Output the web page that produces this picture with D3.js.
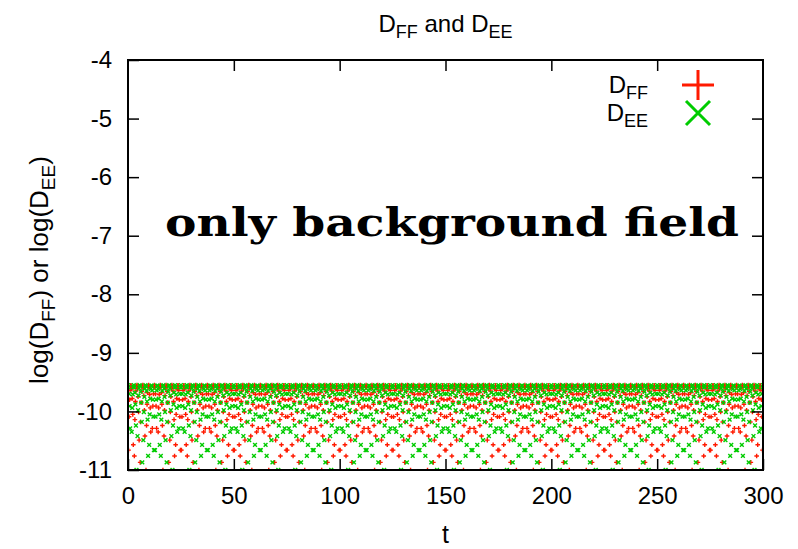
<!DOCTYPE html>
<html>
<head>
    <meta charset="utf-8">
    <script src="https://cdnjs.cloudflare.com/ajax/libs/d3/7.8.5/d3.min.js"></script>
    <style>
        body { margin: 0; background-color: #fff; }
        text { font-family: 'Liberation Sans', Helvetica, Arial, sans-serif; fill: #000; }
        .axis path, .axis line { fill: none; stroke: #000; stroke-width: 1.5; }
        .axis text { font-size: 24px; }
    </style>
</head>
<body>
    <svg width="798" height="549"></svg>
    <script>
        // sample spacing in t (samples start at t = 0)
        var tStep = 0.25;

        // log(D_FF), one value per sample
        var logDFF = [
            -13.0,-10.66,-10.09,-9.80,-9.64,-9.56,-9.56,-9.62,-9.78,-10.05,-10.57,-12.56,-10.76,-10.14,-9.83,-9.65,-9.57,-9.55,-9.61,-9.75,-10.01,-10.49,-11.95,-10.87,-10.18,-9.85,-9.66,-9.57,-9.55,-9.60,-9.73,-9.98,-10.42,-11.60,-11.00,-10.24,-9.88,-9.68,-9.58,-9.55,-9.59,-9.71,-9.94,-10.35,-11.35,-11.16,-10.29,-9.91,-9.70,-9.59,-9.55,-9.59,-9.70,-9.91,-10.29,-11.16,-11.35,-10.35,-9.94,-9.71,-9.59,-9.55,-9.58,-9.68,-9.88,-10.24,-11.00,-11.60,-10.42,-9.98,-9.73,-9.60,-9.55,-9.57,-9.66,-9.85,-10.18,-10.87,-11.95,-10.49,-10.01,-9.75,-9.61,-9.55,-9.57,-9.65,-9.83,-10.14,-10.76,-12.56,-10.57,-10.05,-9.78,-9.62,-9.56,-9.56,-9.64,-9.80,-10.09,-10.66,
            -13.0,-10.66,-10.09,-9.80,-9.64,-9.56,-9.56,-9.62,-9.78,-10.05,-10.57,-12.56,-10.76,-10.14,-9.83,-9.65,-9.57,-9.55,-9.61,-9.75,-10.01,-10.49,-11.95,-10.87,-10.18,-9.85,-9.66,-9.57,-9.55,-9.60,-9.73,-9.98,-10.42,-11.60,-11.00,-10.24,-9.88,-9.68,-9.58,-9.55,-9.59,-9.71,-9.94,-10.35,-11.35,-11.16,-10.29,-9.91,-9.70,-9.59,-9.55,-9.59,-9.70,-9.91,-10.29,-11.16,-11.35,-10.35,-9.94,-9.71,-9.59,-9.55,-9.58,-9.68,-9.88,-10.24,-11.00,-11.60,-10.42,-9.98,-9.73,-9.60,-9.55,-9.57,-9.66,-9.85,-10.18,-10.87,-11.95,-10.49,-10.01,-9.75,-9.61,-9.55,-9.57,-9.65,-9.83,-10.14,-10.76,-12.56,-10.57,-10.05,-9.78,-9.62,-9.56,-9.56,-9.64,-9.80,-10.09,-10.66,
            -13.0,-10.66,-10.09,-9.80,-9.64,-9.56,-9.56,-9.62,-9.78,-10.05,-10.57,-12.56,-10.76,-10.14,-9.83,-9.65,-9.57,-9.55,-9.61,-9.75,-10.01,-10.49,-11.95,-10.87,-10.18,-9.85,-9.66,-9.57,-9.55,-9.60,-9.73,-9.98,-10.42,-11.60,-11.00,-10.24,-9.88,-9.68,-9.58,-9.55,-9.59,-9.71,-9.94,-10.35,-11.35,-11.16,-10.29,-9.91,-9.70,-9.59,-9.55,-9.59,-9.70,-9.91,-10.29,-11.16,-11.35,-10.35,-9.94,-9.71,-9.59,-9.55,-9.58,-9.68,-9.88,-10.24,-11.00,-11.60,-10.42,-9.98,-9.73,-9.60,-9.55,-9.57,-9.66,-9.85,-10.18,-10.87,-11.95,-10.49,-10.01,-9.75,-9.61,-9.55,-9.57,-9.65,-9.83,-10.14,-10.76,-12.56,-10.57,-10.05,-9.78,-9.62,-9.56,-9.56,-9.64,-9.80,-10.09,-10.66,
            -13.0,-10.66,-10.09,-9.80,-9.64,-9.56,-9.56,-9.62,-9.78,-10.05,-10.57,-12.56,-10.76,-10.14,-9.83,-9.65,-9.57,-9.55,-9.61,-9.75,-10.01,-10.49,-11.95,-10.87,-10.18,-9.85,-9.66,-9.57,-9.55,-9.60,-9.73,-9.98,-10.42,-11.60,-11.00,-10.24,-9.88,-9.68,-9.58,-9.55,-9.59,-9.71,-9.94,-10.35,-11.35,-11.16,-10.29,-9.91,-9.70,-9.59,-9.55,-9.59,-9.70,-9.91,-10.29,-11.16,-11.35,-10.35,-9.94,-9.71,-9.59,-9.55,-9.58,-9.68,-9.88,-10.24,-11.00,-11.60,-10.42,-9.98,-9.73,-9.60,-9.55,-9.57,-9.66,-9.85,-10.18,-10.87,-11.95,-10.49,-10.01,-9.75,-9.61,-9.55,-9.57,-9.65,-9.83,-10.14,-10.76,-12.56,-10.57,-10.05,-9.78,-9.62,-9.56,-9.56,-9.64,-9.80,-10.09,-10.66,
            -13.0,-10.66,-10.09,-9.80,-9.64,-9.56,-9.56,-9.62,-9.78,-10.05,-10.57,-12.56,-10.76,-10.14,-9.83,-9.65,-9.57,-9.55,-9.61,-9.75,-10.01,-10.49,-11.95,-10.87,-10.18,-9.85,-9.66,-9.57,-9.55,-9.60,-9.73,-9.98,-10.42,-11.60,-11.00,-10.24,-9.88,-9.68,-9.58,-9.55,-9.59,-9.71,-9.94,-10.35,-11.35,-11.16,-10.29,-9.91,-9.70,-9.59,-9.55,-9.59,-9.70,-9.91,-10.29,-11.16,-11.35,-10.35,-9.94,-9.71,-9.59,-9.55,-9.58,-9.68,-9.88,-10.24,-11.00,-11.60,-10.42,-9.98,-9.73,-9.60,-9.55,-9.57,-9.66,-9.85,-10.18,-10.87,-11.95,-10.49,-10.01,-9.75,-9.61,-9.55,-9.57,-9.65,-9.83,-10.14,-10.76,-12.56,-10.57,-10.05,-9.78,-9.62,-9.56,-9.56,-9.64,-9.80,-10.09,-10.66,
            -13.0,-10.66,-10.09,-9.80,-9.64,-9.56,-9.56,-9.62,-9.78,-10.05,-10.57,-12.56,-10.76,-10.14,-9.83,-9.65,-9.57,-9.55,-9.61,-9.75,-10.01,-10.49,-11.95,-10.87,-10.18,-9.85,-9.66,-9.57,-9.55,-9.60,-9.73,-9.98,-10.42,-11.60,-11.00,-10.24,-9.88,-9.68,-9.58,-9.55,-9.59,-9.71,-9.94,-10.35,-11.35,-11.16,-10.29,-9.91,-9.70,-9.59,-9.55,-9.59,-9.70,-9.91,-10.29,-11.16,-11.35,-10.35,-9.94,-9.71,-9.59,-9.55,-9.58,-9.68,-9.88,-10.24,-11.00,-11.60,-10.42,-9.98,-9.73,-9.60,-9.55,-9.57,-9.66,-9.85,-10.18,-10.87,-11.95,-10.49,-10.01,-9.75,-9.61,-9.55,-9.57,-9.65,-9.83,-10.14,-10.76,-12.56,-10.57,-10.05,-9.78,-9.62,-9.56,-9.56,-9.64,-9.80,-10.09,-10.66,
            -13.0,-10.66,-10.09,-9.80,-9.64,-9.56,-9.56,-9.62,-9.78,-10.05,-10.57,-12.56,-10.76,-10.14,-9.83,-9.65,-9.57,-9.55,-9.61,-9.75,-10.01,-10.49,-11.95,-10.87,-10.18,-9.85,-9.66,-9.57,-9.55,-9.60,-9.73,-9.98,-10.42,-11.60,-11.00,-10.24,-9.88,-9.68,-9.58,-9.55,-9.59,-9.71,-9.94,-10.35,-11.35,-11.16,-10.29,-9.91,-9.70,-9.59,-9.55,-9.59,-9.70,-9.91,-10.29,-11.16,-11.35,-10.35,-9.94,-9.71,-9.59,-9.55,-9.58,-9.68,-9.88,-10.24,-11.00,-11.60,-10.42,-9.98,-9.73,-9.60,-9.55,-9.57,-9.66,-9.85,-10.18,-10.87,-11.95,-10.49,-10.01,-9.75,-9.61,-9.55,-9.57,-9.65,-9.83,-10.14,-10.76,-12.56,-10.57,-10.05,-9.78,-9.62,-9.56,-9.56,-9.64,-9.80,-10.09,-10.66,
            -13.0,-10.66,-10.09,-9.80,-9.64,-9.56,-9.56,-9.62,-9.78,-10.05,-10.57,-12.56,-10.76,-10.14,-9.83,-9.65,-9.57,-9.55,-9.61,-9.75,-10.01,-10.49,-11.95,-10.87,-10.18,-9.85,-9.66,-9.57,-9.55,-9.60,-9.73,-9.98,-10.42,-11.60,-11.00,-10.24,-9.88,-9.68,-9.58,-9.55,-9.59,-9.71,-9.94,-10.35,-11.35,-11.16,-10.29,-9.91,-9.70,-9.59,-9.55,-9.59,-9.70,-9.91,-10.29,-11.16,-11.35,-10.35,-9.94,-9.71,-9.59,-9.55,-9.58,-9.68,-9.88,-10.24,-11.00,-11.60,-10.42,-9.98,-9.73,-9.60,-9.55,-9.57,-9.66,-9.85,-10.18,-10.87,-11.95,-10.49,-10.01,-9.75,-9.61,-9.55,-9.57,-9.65,-9.83,-10.14,-10.76,-12.56,-10.57,-10.05,-9.78,-9.62,-9.56,-9.56,-9.64,-9.80,-10.09,-10.66,
            -13.0,-10.66,-10.09,-9.80,-9.64,-9.56,-9.56,-9.62,-9.78,-10.05,-10.57,-12.56,-10.76,-10.14,-9.83,-9.65,-9.57,-9.55,-9.61,-9.75,-10.01,-10.49,-11.95,-10.87,-10.18,-9.85,-9.66,-9.57,-9.55,-9.60,-9.73,-9.98,-10.42,-11.60,-11.00,-10.24,-9.88,-9.68,-9.58,-9.55,-9.59,-9.71,-9.94,-10.35,-11.35,-11.16,-10.29,-9.91,-9.70,-9.59,-9.55,-9.59,-9.70,-9.91,-10.29,-11.16,-11.35,-10.35,-9.94,-9.71,-9.59,-9.55,-9.58,-9.68,-9.88,-10.24,-11.00,-11.60,-10.42,-9.98,-9.73,-9.60,-9.55,-9.57,-9.66,-9.85,-10.18,-10.87,-11.95,-10.49,-10.01,-9.75,-9.61,-9.55,-9.57,-9.65,-9.83,-10.14,-10.76,-12.56,-10.57,-10.05,-9.78,-9.62,-9.56,-9.56,-9.64,-9.80,-10.09,-10.66,
            -13.0,-10.66,-10.09,-9.80,-9.64,-9.56,-9.56,-9.62,-9.78,-10.05,-10.57,-12.56,-10.76,-10.14,-9.83,-9.65,-9.57,-9.55,-9.61,-9.75,-10.01,-10.49,-11.95,-10.87,-10.18,-9.85,-9.66,-9.57,-9.55,-9.60,-9.73,-9.98,-10.42,-11.60,-11.00,-10.24,-9.88,-9.68,-9.58,-9.55,-9.59,-9.71,-9.94,-10.35,-11.35,-11.16,-10.29,-9.91,-9.70,-9.59,-9.55,-9.59,-9.70,-9.91,-10.29,-11.16,-11.35,-10.35,-9.94,-9.71,-9.59,-9.55,-9.58,-9.68,-9.88,-10.24,-11.00,-11.60,-10.42,-9.98,-9.73,-9.60,-9.55,-9.57,-9.66,-9.85,-10.18,-10.87,-11.95,-10.49,-10.01,-9.75,-9.61,-9.55,-9.57,-9.65,-9.83,-10.14,-10.76,-12.56,-10.57,-10.05,-9.78,-9.62,-9.56,-9.56,-9.64,-9.80,-10.09,-10.66,
            -13.0,-10.66,-10.09,-9.80,-9.64,-9.56,-9.56,-9.62,-9.78,-10.05,-10.57,-12.56,-10.76,-10.14,-9.83,-9.65,-9.57,-9.55,-9.61,-9.75,-10.01,-10.49,-11.95,-10.87,-10.18,-9.85,-9.66,-9.57,-9.55,-9.60,-9.73,-9.98,-10.42,-11.60,-11.00,-10.24,-9.88,-9.68,-9.58,-9.55,-9.59,-9.71,-9.94,-10.35,-11.35,-11.16,-10.29,-9.91,-9.70,-9.59,-9.55,-9.59,-9.70,-9.91,-10.29,-11.16,-11.35,-10.35,-9.94,-9.71,-9.59,-9.55,-9.58,-9.68,-9.88,-10.24,-11.00,-11.60,-10.42,-9.98,-9.73,-9.60,-9.55,-9.57,-9.66,-9.85,-10.18,-10.87,-11.95,-10.49,-10.01,-9.75,-9.61,-9.55,-9.57,-9.65,-9.83,-10.14,-10.76,-12.56,-10.57,-10.05,-9.78,-9.62,-9.56,-9.56,-9.64,-9.80,-10.09,-10.66,
            -13.0,-10.66,-10.09,-9.80,-9.64,-9.56,-9.56,-9.62,-9.78,-10.05,-10.57,-12.56,-10.76,-10.14,-9.83,-9.65,-9.57,-9.55,-9.61,-9.75,-10.01,-10.49,-11.95,-10.87,-10.18,-9.85,-9.66,-9.57,-9.55,-9.60,-9.73,-9.98,-10.42,-11.60,-11.00,-10.24,-9.88,-9.68,-9.58,-9.55,-9.59,-9.71,-9.94,-10.35,-11.35,-11.16,-10.29,-9.91,-9.70,-9.59,-9.55,-9.59,-9.70,-9.91,-10.29,-11.16,-11.35,-10.35,-9.94,-9.71,-9.59,-9.55,-9.58,-9.68,-9.88,-10.24,-11.00,-11.60,-10.42,-9.98,-9.73,-9.60,-9.55,-9.57,-9.66,-9.85,-10.18,-10.87,-11.95,-10.49,-10.01,-9.75,-9.61,-9.55,-9.57,-9.65,-9.83,-10.14,-10.76,-12.56,-10.57,-10.05,-9.78,-9.62,-9.56,-9.56,-9.64,-9.80,-10.09,-10.66,
            -13.0
        ];

        // log(D_EE), same sample times
        var logDEE = [
            -9.55,-9.59,-9.70,-9.91,-10.29,-11.16,-11.35,-10.35,-9.94,-9.71,-9.59,-9.55,-9.58,-9.68,-9.88,-10.24,-11.00,-11.60,-10.42,-9.98,-9.73,-9.60,-9.55,-9.57,-9.66,-9.85,-10.18,-10.87,-11.95,-10.49,-10.01,-9.75,-9.61,-9.55,-9.57,-9.65,-9.83,-10.14,-10.76,-12.56,-10.57,-10.05,-9.78,-9.62,-9.56,-9.56,-9.64,-9.80,-10.09,-10.66,-13.0,-10.66,-10.09,-9.80,-9.64,-9.56,-9.56,-9.62,-9.78,-10.05,-10.57,-12.56,-10.76,-10.14,-9.83,-9.65,-9.57,-9.55,-9.61,-9.75,-10.01,-10.49,-11.95,-10.87,-10.18,-9.85,-9.66,-9.57,-9.55,-9.60,-9.73,-9.98,-10.42,-11.60,-11.00,-10.24,-9.88,-9.68,-9.58,-9.55,-9.59,-9.71,-9.94,-10.35,-11.35,-11.16,-10.29,-9.91,-9.70,-9.59,
            -9.55,-9.59,-9.70,-9.91,-10.29,-11.16,-11.35,-10.35,-9.94,-9.71,-9.59,-9.55,-9.58,-9.68,-9.88,-10.24,-11.00,-11.60,-10.42,-9.98,-9.73,-9.60,-9.55,-9.57,-9.66,-9.85,-10.18,-10.87,-11.95,-10.49,-10.01,-9.75,-9.61,-9.55,-9.57,-9.65,-9.83,-10.14,-10.76,-12.56,-10.57,-10.05,-9.78,-9.62,-9.56,-9.56,-9.64,-9.80,-10.09,-10.66,-13.0,-10.66,-10.09,-9.80,-9.64,-9.56,-9.56,-9.62,-9.78,-10.05,-10.57,-12.56,-10.76,-10.14,-9.83,-9.65,-9.57,-9.55,-9.61,-9.75,-10.01,-10.49,-11.95,-10.87,-10.18,-9.85,-9.66,-9.57,-9.55,-9.60,-9.73,-9.98,-10.42,-11.60,-11.00,-10.24,-9.88,-9.68,-9.58,-9.55,-9.59,-9.71,-9.94,-10.35,-11.35,-11.16,-10.29,-9.91,-9.70,-9.59,
            -9.55,-9.59,-9.70,-9.91,-10.29,-11.16,-11.35,-10.35,-9.94,-9.71,-9.59,-9.55,-9.58,-9.68,-9.88,-10.24,-11.00,-11.60,-10.42,-9.98,-9.73,-9.60,-9.55,-9.57,-9.66,-9.85,-10.18,-10.87,-11.95,-10.49,-10.01,-9.75,-9.61,-9.55,-9.57,-9.65,-9.83,-10.14,-10.76,-12.56,-10.57,-10.05,-9.78,-9.62,-9.56,-9.56,-9.64,-9.80,-10.09,-10.66,-13.0,-10.66,-10.09,-9.80,-9.64,-9.56,-9.56,-9.62,-9.78,-10.05,-10.57,-12.56,-10.76,-10.14,-9.83,-9.65,-9.57,-9.55,-9.61,-9.75,-10.01,-10.49,-11.95,-10.87,-10.18,-9.85,-9.66,-9.57,-9.55,-9.60,-9.73,-9.98,-10.42,-11.60,-11.00,-10.24,-9.88,-9.68,-9.58,-9.55,-9.59,-9.71,-9.94,-10.35,-11.35,-11.16,-10.29,-9.91,-9.70,-9.59,
            -9.55,-9.59,-9.70,-9.91,-10.29,-11.16,-11.35,-10.35,-9.94,-9.71,-9.59,-9.55,-9.58,-9.68,-9.88,-10.24,-11.00,-11.60,-10.42,-9.98,-9.73,-9.60,-9.55,-9.57,-9.66,-9.85,-10.18,-10.87,-11.95,-10.49,-10.01,-9.75,-9.61,-9.55,-9.57,-9.65,-9.83,-10.14,-10.76,-12.56,-10.57,-10.05,-9.78,-9.62,-9.56,-9.56,-9.64,-9.80,-10.09,-10.66,-13.0,-10.66,-10.09,-9.80,-9.64,-9.56,-9.56,-9.62,-9.78,-10.05,-10.57,-12.56,-10.76,-10.14,-9.83,-9.65,-9.57,-9.55,-9.61,-9.75,-10.01,-10.49,-11.95,-10.87,-10.18,-9.85,-9.66,-9.57,-9.55,-9.60,-9.73,-9.98,-10.42,-11.60,-11.00,-10.24,-9.88,-9.68,-9.58,-9.55,-9.59,-9.71,-9.94,-10.35,-11.35,-11.16,-10.29,-9.91,-9.70,-9.59,
            -9.55,-9.59,-9.70,-9.91,-10.29,-11.16,-11.35,-10.35,-9.94,-9.71,-9.59,-9.55,-9.58,-9.68,-9.88,-10.24,-11.00,-11.60,-10.42,-9.98,-9.73,-9.60,-9.55,-9.57,-9.66,-9.85,-10.18,-10.87,-11.95,-10.49,-10.01,-9.75,-9.61,-9.55,-9.57,-9.65,-9.83,-10.14,-10.76,-12.56,-10.57,-10.05,-9.78,-9.62,-9.56,-9.56,-9.64,-9.80,-10.09,-10.66,-13.0,-10.66,-10.09,-9.80,-9.64,-9.56,-9.56,-9.62,-9.78,-10.05,-10.57,-12.56,-10.76,-10.14,-9.83,-9.65,-9.57,-9.55,-9.61,-9.75,-10.01,-10.49,-11.95,-10.87,-10.18,-9.85,-9.66,-9.57,-9.55,-9.60,-9.73,-9.98,-10.42,-11.60,-11.00,-10.24,-9.88,-9.68,-9.58,-9.55,-9.59,-9.71,-9.94,-10.35,-11.35,-11.16,-10.29,-9.91,-9.70,-9.59,
            -9.55,-9.59,-9.70,-9.91,-10.29,-11.16,-11.35,-10.35,-9.94,-9.71,-9.59,-9.55,-9.58,-9.68,-9.88,-10.24,-11.00,-11.60,-10.42,-9.98,-9.73,-9.60,-9.55,-9.57,-9.66,-9.85,-10.18,-10.87,-11.95,-10.49,-10.01,-9.75,-9.61,-9.55,-9.57,-9.65,-9.83,-10.14,-10.76,-12.56,-10.57,-10.05,-9.78,-9.62,-9.56,-9.56,-9.64,-9.80,-10.09,-10.66,-13.0,-10.66,-10.09,-9.80,-9.64,-9.56,-9.56,-9.62,-9.78,-10.05,-10.57,-12.56,-10.76,-10.14,-9.83,-9.65,-9.57,-9.55,-9.61,-9.75,-10.01,-10.49,-11.95,-10.87,-10.18,-9.85,-9.66,-9.57,-9.55,-9.60,-9.73,-9.98,-10.42,-11.60,-11.00,-10.24,-9.88,-9.68,-9.58,-9.55,-9.59,-9.71,-9.94,-10.35,-11.35,-11.16,-10.29,-9.91,-9.70,-9.59,
            -9.55,-9.59,-9.70,-9.91,-10.29,-11.16,-11.35,-10.35,-9.94,-9.71,-9.59,-9.55,-9.58,-9.68,-9.88,-10.24,-11.00,-11.60,-10.42,-9.98,-9.73,-9.60,-9.55,-9.57,-9.66,-9.85,-10.18,-10.87,-11.95,-10.49,-10.01,-9.75,-9.61,-9.55,-9.57,-9.65,-9.83,-10.14,-10.76,-12.56,-10.57,-10.05,-9.78,-9.62,-9.56,-9.56,-9.64,-9.80,-10.09,-10.66,-13.0,-10.66,-10.09,-9.80,-9.64,-9.56,-9.56,-9.62,-9.78,-10.05,-10.57,-12.56,-10.76,-10.14,-9.83,-9.65,-9.57,-9.55,-9.61,-9.75,-10.01,-10.49,-11.95,-10.87,-10.18,-9.85,-9.66,-9.57,-9.55,-9.60,-9.73,-9.98,-10.42,-11.60,-11.00,-10.24,-9.88,-9.68,-9.58,-9.55,-9.59,-9.71,-9.94,-10.35,-11.35,-11.16,-10.29,-9.91,-9.70,-9.59,
            -9.55,-9.59,-9.70,-9.91,-10.29,-11.16,-11.35,-10.35,-9.94,-9.71,-9.59,-9.55,-9.58,-9.68,-9.88,-10.24,-11.00,-11.60,-10.42,-9.98,-9.73,-9.60,-9.55,-9.57,-9.66,-9.85,-10.18,-10.87,-11.95,-10.49,-10.01,-9.75,-9.61,-9.55,-9.57,-9.65,-9.83,-10.14,-10.76,-12.56,-10.57,-10.05,-9.78,-9.62,-9.56,-9.56,-9.64,-9.80,-10.09,-10.66,-13.0,-10.66,-10.09,-9.80,-9.64,-9.56,-9.56,-9.62,-9.78,-10.05,-10.57,-12.56,-10.76,-10.14,-9.83,-9.65,-9.57,-9.55,-9.61,-9.75,-10.01,-10.49,-11.95,-10.87,-10.18,-9.85,-9.66,-9.57,-9.55,-9.60,-9.73,-9.98,-10.42,-11.60,-11.00,-10.24,-9.88,-9.68,-9.58,-9.55,-9.59,-9.71,-9.94,-10.35,-11.35,-11.16,-10.29,-9.91,-9.70,-9.59,
            -9.55,-9.59,-9.70,-9.91,-10.29,-11.16,-11.35,-10.35,-9.94,-9.71,-9.59,-9.55,-9.58,-9.68,-9.88,-10.24,-11.00,-11.60,-10.42,-9.98,-9.73,-9.60,-9.55,-9.57,-9.66,-9.85,-10.18,-10.87,-11.95,-10.49,-10.01,-9.75,-9.61,-9.55,-9.57,-9.65,-9.83,-10.14,-10.76,-12.56,-10.57,-10.05,-9.78,-9.62,-9.56,-9.56,-9.64,-9.80,-10.09,-10.66,-13.0,-10.66,-10.09,-9.80,-9.64,-9.56,-9.56,-9.62,-9.78,-10.05,-10.57,-12.56,-10.76,-10.14,-9.83,-9.65,-9.57,-9.55,-9.61,-9.75,-10.01,-10.49,-11.95,-10.87,-10.18,-9.85,-9.66,-9.57,-9.55,-9.60,-9.73,-9.98,-10.42,-11.60,-11.00,-10.24,-9.88,-9.68,-9.58,-9.55,-9.59,-9.71,-9.94,-10.35,-11.35,-11.16,-10.29,-9.91,-9.70,-9.59,
            -9.55,-9.59,-9.70,-9.91,-10.29,-11.16,-11.35,-10.35,-9.94,-9.71,-9.59,-9.55,-9.58,-9.68,-9.88,-10.24,-11.00,-11.60,-10.42,-9.98,-9.73,-9.60,-9.55,-9.57,-9.66,-9.85,-10.18,-10.87,-11.95,-10.49,-10.01,-9.75,-9.61,-9.55,-9.57,-9.65,-9.83,-10.14,-10.76,-12.56,-10.57,-10.05,-9.78,-9.62,-9.56,-9.56,-9.64,-9.80,-10.09,-10.66,-13.0,-10.66,-10.09,-9.80,-9.64,-9.56,-9.56,-9.62,-9.78,-10.05,-10.57,-12.56,-10.76,-10.14,-9.83,-9.65,-9.57,-9.55,-9.61,-9.75,-10.01,-10.49,-11.95,-10.87,-10.18,-9.85,-9.66,-9.57,-9.55,-9.60,-9.73,-9.98,-10.42,-11.60,-11.00,-10.24,-9.88,-9.68,-9.58,-9.55,-9.59,-9.71,-9.94,-10.35,-11.35,-11.16,-10.29,-9.91,-9.70,-9.59,
            -9.55,-9.59,-9.70,-9.91,-10.29,-11.16,-11.35,-10.35,-9.94,-9.71,-9.59,-9.55,-9.58,-9.68,-9.88,-10.24,-11.00,-11.60,-10.42,-9.98,-9.73,-9.60,-9.55,-9.57,-9.66,-9.85,-10.18,-10.87,-11.95,-10.49,-10.01,-9.75,-9.61,-9.55,-9.57,-9.65,-9.83,-10.14,-10.76,-12.56,-10.57,-10.05,-9.78,-9.62,-9.56,-9.56,-9.64,-9.80,-10.09,-10.66,-13.0,-10.66,-10.09,-9.80,-9.64,-9.56,-9.56,-9.62,-9.78,-10.05,-10.57,-12.56,-10.76,-10.14,-9.83,-9.65,-9.57,-9.55,-9.61,-9.75,-10.01,-10.49,-11.95,-10.87,-10.18,-9.85,-9.66,-9.57,-9.55,-9.60,-9.73,-9.98,-10.42,-11.60,-11.00,-10.24,-9.88,-9.68,-9.58,-9.55,-9.59,-9.71,-9.94,-10.35,-11.35,-11.16,-10.29,-9.91,-9.70,-9.59,
            -9.55,-9.59,-9.70,-9.91,-10.29,-11.16,-11.35,-10.35,-9.94,-9.71,-9.59,-9.55,-9.58,-9.68,-9.88,-10.24,-11.00,-11.60,-10.42,-9.98,-9.73,-9.60,-9.55,-9.57,-9.66,-9.85,-10.18,-10.87,-11.95,-10.49,-10.01,-9.75,-9.61,-9.55,-9.57,-9.65,-9.83,-10.14,-10.76,-12.56,-10.57,-10.05,-9.78,-9.62,-9.56,-9.56,-9.64,-9.80,-10.09,-10.66,-13.0,-10.66,-10.09,-9.80,-9.64,-9.56,-9.56,-9.62,-9.78,-10.05,-10.57,-12.56,-10.76,-10.14,-9.83,-9.65,-9.57,-9.55,-9.61,-9.75,-10.01,-10.49,-11.95,-10.87,-10.18,-9.85,-9.66,-9.57,-9.55,-9.60,-9.73,-9.98,-10.42,-11.60,-11.00,-10.24,-9.88,-9.68,-9.58,-9.55,-9.59,-9.71,-9.94,-10.35,-11.35,-11.16,-10.29,-9.91,-9.70,-9.59,
            -9.55
        ];

        var xTicks = [0, 50, 100, 150, 200, 250, 300];
        var yTicks = [-11, -10, -9, -8, -7, -6, -5, -4];
        var ffColor = "#ff1a00",
            eeColor = "#00cc00";

        var svg = d3.select("svg"),
            margin = {top: 60, right: 35, bottom: 79, left: 128},
            width = svg.attr("width") - margin.left - margin.right,
            height = svg.attr("height") - margin.top - margin.bottom,
            g = svg.append("g").attr("transform", "translate(" + margin.left + "," + margin.top + ")");

        var x = d3.scaleLinear().domain([0, 300]).range([0, width]),
            y = d3.scaleLinear().domain([-11, -4]).range([height, 0]);

        svg.append("defs").append("clipPath").attr("id", "clip")
            .append("rect").attr("width", width).attr("height", height);

        // small gnuplot style point markers
        var plusPath = "M-2.3,0H2.3M0,-2.3V2.3",
            crossPath = "M-1.9,-1.9L1.9,1.9M-1.9,1.9L1.9,-1.9";

        var pts = g.append("g").attr("clip-path", "url(#clip)");

        pts.append("g").selectAll("path")
            .data(logDFF)
            .enter().append("path")
            .attr("transform", function(d, i) { return "translate(" + x(i * tStep) + "," + y(d) + ")"; })
            .attr("d", plusPath)
            .attr("stroke", ffColor)
            .attr("stroke-width", 1.4)
            .attr("fill", "none");

        pts.append("g").selectAll("path")
            .data(logDEE)
            .enter().append("path")
            .attr("transform", function(d, i) { return "translate(" + x(i * tStep) + "," + y(d) + ")"; })
            .attr("d", crossPath)
            .attr("stroke", eeColor)
            .attr("stroke-width", 1.4)
            .attr("fill", "none");

        // axes, ticks pointing inward, mirrored on top/right
        var fmt = function(d) { return String(d); };
        g.append("g").attr("class", "axis")
            .attr("transform", "translate(0," + height + ")")
            .call(d3.axisBottom(x).tickValues(xTicks).tickFormat(fmt).tickSizeInner(-11).tickSizeOuter(0).tickPadding(17));
        g.append("g").attr("class", "axis")
            .call(d3.axisTop(x).tickValues(xTicks.slice(1, -1)).tickSizeInner(-11).tickSizeOuter(0).tickFormat(""));
        g.append("g").attr("class", "axis")
            .call(d3.axisLeft(y).tickValues(yTicks).tickFormat(fmt).tickSizeInner(-11).tickSizeOuter(0).tickPadding(16));
        g.append("g").attr("class", "axis")
            .attr("transform", "translate(" + width + ",0)")
            .call(d3.axisRight(y).tickValues(yTicks.slice(1, -1)).tickSizeInner(-11).tickSizeOuter(0).tickFormat(""));
        g.selectAll(".axis .domain").remove();

        g.append("rect")
            .attr("width", width).attr("height", height)
            .attr("fill", "none").attr("stroke", "#000").attr("stroke-width", 2);

        // title
        var title = svg.append("text")
            .attr("x", margin.left + width / 2).attr("y", 32)
            .attr("text-anchor", "middle")
            .style("font-size", "24px");
        title.append("tspan").text("D");
        title.append("tspan").attr("dy", 6).style("font-size", "18px").text("FF");
        title.append("tspan").attr("dy", -6).text(" and D");
        title.append("tspan").attr("dy", 6).style("font-size", "18px").text("EE");

        // axis labels
        svg.append("text")
            .attr("x", margin.left + width / 2).attr("y", 543)
            .attr("text-anchor", "middle")
            .style("font-size", "25px")
            .text("t");

        var ylab = svg.append("text")
            .attr("transform", "translate(48,270) rotate(-90)")
            .attr("text-anchor", "middle")
            .style("font-size", "26px");
        ylab.append("tspan").text("log(D");
        ylab.append("tspan").attr("dy", 7).style("font-size", "19px").text("FF");
        ylab.append("tspan").attr("dy", -7).text(") or log(D");
        ylab.append("tspan").attr("dy", 7).style("font-size", "19px").text("EE");
        ylab.append("tspan").attr("dy", -7).text(")");

        // annotation
        svg.append("text")
            .attr("x", 165).attr("y", 236)
            .attr("textLength", 574).attr("lengthAdjust", "spacingAndGlyphs")
            .style("font-family", "'DejaVu Serif', serif")
            .style("font-weight", "bold")
            .style("font-size", "40px")
            .text("only background field");

        // legend
        var legend = svg.append("g");
        var items = [
            {label: "FF", color: ffColor, path: "M-16,0H16M0,-15V15", yy: 85},
            {label: "EE", color: eeColor, path: "M-12,-12L12,12M-12,12L12,-12", yy: 113}
        ];
        items.forEach(function(it) {
            var t = legend.append("text")
                .attr("x", 648).attr("y", it.yy + 8)
                .attr("text-anchor", "end")
                .style("font-size", "24px");
            t.append("tspan").text("D");
            t.append("tspan").attr("dy", 6).style("font-size", "18px").text(it.label);
            legend.append("path")
                .attr("transform", "translate(698," + it.yy + ")")
                .attr("d", it.path)
                .attr("stroke", it.color)
                .attr("stroke-width", 3)
                .attr("fill", "none");
        });
    </script>
</body>
</html>
